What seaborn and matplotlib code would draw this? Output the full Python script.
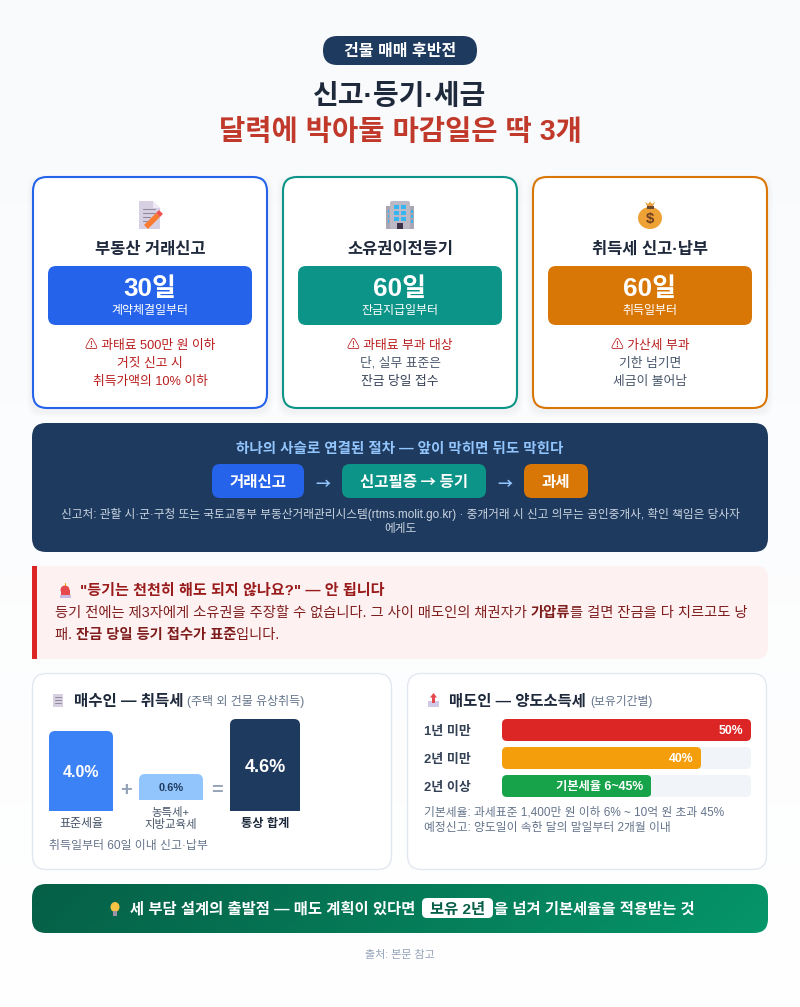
import numpy as np
import pandas as pd
import seaborn as sns
from matplotlib import pyplot as plt
from matplotlib.colors import to_rgb
from matplotlib.patches import Ellipse, FancyBboxPatch, Polygon, Rectangle

W, H = 800, 1007

# values
buyer_labels = ["표준세율", "농특세+지방교육세", "통상 합계"]
buyer_rates = [4.0, 0.6, 4.6]
buyer_texts = ["4.0%", "0.6%", "4.6%"]
seller_periods = ["1년 미만", "2년 미만", "2년 이상"]
seller_rates = [50, 40, 30]
seller_full = [50, 50, 50]
seller_texts = ["50%", "40%", "기본세율 6~45%"]
seller_colors = ["#dc2626", "#f59e0b", "#16a34a"]
card_titles = ["부동산 거래신고", "소유권이전등기", "취득세 신고·납부"]
card_days = ["30일", "60일", "60일"]
card_subs = ["계약체결일부터", "잔금지급일부터", "취득일부터"]
card_colors = ["#2563eb", "#0d9488", "#d97706"]
card_notes = [
    ["⚠ 과태료 500만 원 이하", "거짓 신고 시", "취득가액의 10% 이하"],
    ["⚠ 과태료 부과 대상", "단, 실무 표준은", "잔금 당일 접수"],
    ["⚠ 가산세 부과", "기한 넘기면", "세금이 불어남"],
]

sns.set_theme(style="white")
plt.rcParams["font.family"] = ["Liberation Sans", "Noto Sans CJK KR", "DejaVu Sans"]
plt.rcParams["patch.force_edgecolor"] = False
CJK_FIRST = ["Noto Sans CJK KR", "DejaVu Sans"]

fig = plt.figure(figsize=(W / 100, H / 100), dpi=100)


def px_axes(x0, y0, x1, y1, zorder=1):
    ax = fig.add_axes([x0 / W, 1 - y1 / H, (x1 - x0) / W, (y1 - y0) / H], zorder=zorder)
    ax.patch.set_alpha(0)
    return ax


bg = px_axes(0, 0, W, H, zorder=0)
bg.set_xlim(0, W)
bg.set_ylim(H, 0)
bg.axis("off")
top = px_axes(0, 0, W, H, zorder=5)
top.set_xlim(0, W)
top.set_ylim(H, 0)
top.axis("off")


def rbox(x0, y0, x1, y1, r, fc="none", ec="none", lw=0, ax=bg, z=2, alpha=None):
    p = FancyBboxPatch(
        (x0 + r, y0 + r),
        x1 - x0 - 2 * r,
        y1 - y0 - 2 * r,
        boxstyle=f"round,pad={r},rounding_size={r}",
        fc=fc,
        ec=ec,
        lw=lw,
        zorder=z,
        alpha=alpha,
    )
    ax.add_patch(p)
    return p


def txt(x, y, s, px, color, weight="normal", ha="center", family=None):
    # y is the visual middle of the line, placed from the baseline so lines stay level
    kw = {"family": family} if family else {}
    return top.text(x, y + 0.36 * px, s, fontsize=px * 0.72, color=color, fontweight=weight, ha=ha, va="baseline", **kw)


def text_width(s, px, weight):
    rnd = fig.canvas.get_renderer()
    a = top.text(0, 0, s + "|", fontsize=px * 0.72, fontweight=weight)
    b = top.text(0, 0, "|", fontsize=px * 0.72, fontweight=weight)
    w = a.get_window_extent(rnd).width - b.get_window_extent(rnd).width
    a.remove()
    b.remove()
    return w


def runs(x, y, parts, px):
    # several weights on one line
    for s, weight, color in parts:
        txt(x, y, s, px, color, weight, ha="left")
        x += text_width(s, px, weight)
    return x


def gradient(x0, y0, x1, y1, c0, c1, clip=None, diag=0.0, vertical=False):
    c0 = np.array(to_rgb(c0))
    c1 = np.array(to_rgb(c1))
    gx, gy = np.meshgrid(np.linspace(0, 1, 300), np.linspace(0, 1, 300))
    t = gy if vertical else (gx + diag * gy) / (1 + diag)
    im = bg.imshow(
        c0 * (1 - t[..., None]) + c1 * t[..., None],
        extent=(x0, x1, y1, y0),
        aspect="auto",
        zorder=1 if clip is None else 3,
    )
    if clip is not None:
        im.set_clip_path(clip)
    bg.set_xlim(0, W)
    bg.set_ylim(H, 0)


def round_bar(bar, r, top_only=False):
    # keep the seaborn bar, only clip its corners
    ext = bar.get_window_extent(fig.canvas.get_renderer())
    (x0, y0), (x1, y1) = bg.transData.inverted().transform([[ext.x0, ext.y1], [ext.x1, ext.y0]])
    if x1 <= x0 or y1 <= y0:
        return
    clip = FancyBboxPatch(
        (x0 + r, y0 + r),
        x1 - x0 - 2 * r,
        y1 - y0 - 2 * r + (12 if top_only else 0),
        boxstyle=f"round,pad={r},rounding_size={r}",
        transform=bg.transData,
    )
    bar.set_clip_on(True)
    bar.set_clip_path(clip)


# page background
gradient(0, 0, W, H, "#f8fafc", "#ffffff", vertical=True)

# header
rbox(323, 36, 477, 65, 14.5, fc="#1e3a5f")
txt(400, 50.5, "건물 매매 후반전", 16, "white", "bold")
txt(400, 94, "신고·등기·세금", 28, "#1e293b", "bold")
txt(400, 130, "달력에 박아둘 마감일은 딱 3개", 28.6, "#c0392b", "bold")

# three deadline cards
for i, x0 in enumerate([32, 282, 532]):
    x1 = x0 + 236
    cx = (x0 + x1) / 2
    for k in range(1, 6):
        rbox(x0 - k, 176 - k + 4, x1 + k, 408 + k + 4, 14, fc="#1e3a5f", alpha=0.006)
    rbox(x0 + 1, 177, x1 - 1, 408, 14, fc="white", ec=card_colors[i], lw=1.5, z=2.5)
    txt(cx, 248, card_titles[i], 16.5, "#1e293b", "bold")
    rbox(x0 + 16, 266, x1 - 16, 325, 8, fc=card_colors[i], z=3)
    txt(cx, 287, card_days[i], 26, "white", "bold")
    txt(cx, 310, card_subs[i], 12, "white")
    for j, line in enumerate(card_notes[i]):
        if i == 0 or j == 0:
            color = "#b91c1c"
        elif i == 1 and j == 2:
            color = "#334155"
        else:
            color = "#475569"
        txt(cx, 344 + j * 18, line, 12.8, color, "medium" if (i == 1 and j == 2) else "normal")

# icons, no emoji font here so they are small drawings
bg.add_patch(Polygon([[139, 201], [153, 201], [160, 208], [160, 229], [139, 229]], fc="#d6d0e2", zorder=4))
bg.add_patch(Polygon([[153, 201], [160, 208], [153, 208]], fc="#efeaf5", zorder=4))
for yy in [209, 213, 217, 221]:
    bg.plot([143, 155 if yy < 214 else 150], [yy, yy], color="#8f8a9c", lw=0.8, zorder=4)
bg.plot([146, 158], [227, 215], color="#f97b32", lw=4, solid_capstyle="butt", zorder=5)
bg.plot([158, 161], [215, 212], color="#ef5350", lw=4, solid_capstyle="butt", zorder=5)
bg.add_patch(Rectangle((386, 206), 28, 23, fc="#a9a5b2", zorder=4))
rbox(390, 201, 410, 229, 2, fc="#bdb9c4", z=4.2)
for yy in [205, 211, 217]:
    for xx in [394, 401]:
        bg.add_patch(Rectangle((xx, yy), 4.5, 4, fc="#35b6f2", zorder=4.4))
for yy in [210, 215, 220]:
    for xx in [387.5, 411]:
        bg.add_patch(Rectangle((xx, yy), 1.5, 3, fc="#35b6f2", zorder=4.4))
bg.add_patch(Rectangle((397, 223), 6, 6, fc="#3d3348", zorder=4.4))
bg.add_patch(Ellipse((650, 218), 24, 22, fc="#eea235", zorder=4))
bg.add_patch(Rectangle((646.5, 206), 7, 3, fc="#6d4a32", zorder=4.2))
bg.add_patch(Polygon([[645, 202], [648, 204], [650, 201.5], [652, 204], [655, 202], [653, 206], [647, 206]], fc="#e9a23b", zorder=4.2))
txt(650, 218, "$", 15, "#6d3f22", "bold")

# process panel
rbox(32, 423, 768, 552, 14, fc="#1e3a5f")
txt(400, 448, "하나의 사슬로 연결된 절차 — 앞이 막히면 뒤도 막힌다", 14.5, "#93c5fd", "bold")
for (x0, x1), label, color in zip(
    [(212, 304), (342, 486), (524, 588)],
    ["거래신고", "신고필증 → 등기", "과세"],
    card_colors,
):
    rbox(x0, 464, x1, 498, 8, fc=color, z=3)
    txt((x0 + x1) / 2, 481, label, 15.5, "white", "bold", family=CJK_FIRST)
txt(323, 484, "→", 15, "#93c5fd", "bold", family=CJK_FIRST)
txt(505, 484, "→", 15, "#93c5fd", "bold", family=CJK_FIRST)
txt(400, 514, "신고처: 관할 시·군·구청 또는 국토교통부 부동산거래관리시스템(rtms.molit.go.kr) · 중개거래 시 신고 의무는 공인중개사, 확인 책임은 당사자", 11.7, "#cbd5e1")
txt(400, 528, "에게도", 11.7, "#cbd5e1")

# alert box
alert = rbox(20, 566, 768, 659, 12, fc="#fef1f1")
alert_box = Rectangle((32, 560), 740, 105, transform=bg.transData)
alert.set_clip_path(alert_box)
bg.add_patch(Rectangle((32, 566), 5, 93, fc="#dc2626", zorder=3))
bg.add_patch(Ellipse((65, 590), 9, 9, fc="#e5484d", zorder=3))
bg.add_patch(Rectangle((60.5, 590), 9, 5, fc="#e5484d", zorder=3))
bg.add_patch(Rectangle((59.5, 594.5), 11, 3, fc="#c9b8e0", zorder=3.2))
bg.plot([65, 65], [583, 585], color="#f59e0b", lw=0.8, zorder=3)
txt(80.5, 590, '"등기는 천천히 해도 되지 않나요?" — 안 됩니다', 15.1, "#991b1b", "bold", ha="left")
runs(55, 612, [
    ("등기 전에는 제3자에게 소유권을 주장할 수 없습니다. 그 사이 매도인의 채권자가 ", "normal", "#7f1d1d"),
    ("가압류", "bold", "#7f1d1d"),
    ("를 걸면 잔금을 다 치르고도 낭", "normal", "#7f1d1d"),
], 14.3)
runs(55, 634, [
    ("패. ", "normal", "#7f1d1d"),
    ("잔금 당일 등기 접수가 표준", "bold", "#7f1d1d"),
    ("입니다.", "normal", "#7f1d1d"),
], 14.3)

# lower two cards
rbox(32.5, 673.5, 391.5, 869.5, 14, fc="white", ec="#e2e8f0", lw=1)
rbox(407.5, 673.5, 766.5, 869.5, 14, fc="white", ec="#e2e8f0", lw=1)

# buyer side
bg.add_patch(Rectangle((53, 694), 10, 13, fc="#d6d0e2", zorder=3))
for yy in [697, 700, 703]:
    bg.plot([55, 61], [yy, yy], color="#8f8a9c", lw=0.7, zorder=3)
txt(74, 700, "매수인 — 취득세", 15.5, "#1e293b", "bold", ha="left")
txt(187, 701, "(주택 외 건물 유상취득)", 12, "#64748b", ha="left")

buyer_boxes = [(49, 731, 113, 811), (139, 774, 203, 800), (230, 719, 300, 811)]
buyer_colors = ["#3b82f6", "#93c5fd", "#1e3a5f"]
for label, rate, box, color in zip(buyer_labels, buyer_rates, buyer_boxes, buyer_colors):
    ax = px_axes(*box)
    sns.barplot(x=[label], y=[rate], color=color, saturation=1, width=1, linewidth=0, ax=ax)
    ax.set_xlim(-0.5, 0.5)
    ax.set_ylim(0, rate)
    ax.axis("off")
    round_bar(ax.patches[0], 6, top_only=True)
txt(81, 771, buyer_texts[0], 16, "white", "bold")
txt(171, 787, buyer_texts[1], 11, "#1e3a5f", "bold")
txt(265, 766, buyer_texts[2], 18, "white", "bold")
txt(126, 789, "+", 20, "#94a3b8", "bold")
txt(217, 789, "=", 20, "#94a3b8", "bold")
txt(81, 823, "표준세율", 12, "#475569")
txt(171, 812, "농특세+", 11.4, "#475569")
txt(171, 824, "지방교육세", 11.4, "#475569")
txt(265, 823, "통상 합계", 12.2, "#1e293b", "bold")
txt(49, 845, "취득일부터 60일 이내 신고·납부", 11.9, "#64748b", ha="left")

# seller side
bg.add_patch(Rectangle((428, 701), 11, 6, fc="#cfc8e6", zorder=3))
bg.add_patch(Polygon([[433.5, 693], [437, 697.5], [435, 697.5], [435, 703], [432, 703], [432, 697.5], [430, 697.5]], fc="#e5484d", zorder=3.2))
txt(449, 700, "매도인 — 양도소득세", 15.4, "#1e293b", "bold", ha="left")
txt(590, 701, "(보유기간별)", 11.8, "#64748b", ha="left")

seller = pd.DataFrame({"period": seller_periods, "rate": seller_rates, "full": seller_full})
ax = px_axes(502, 716, 751, 800)
sns.barplot(data=seller, x="full", y="period", color="#f1f5f9", saturation=1, width=22 / 28, linewidth=0, ax=ax)
sns.barplot(data=seller, x="rate", y="period", hue="period", palette=seller_colors, saturation=1, width=22 / 28, linewidth=0, legend=False, ax=ax)
ax.set_xlim(0, 50)
ax.set_ylim(2.5, -0.5)
ax.set(xlabel="", ylabel="")
sns.despine(ax=ax, left=True, bottom=True)
ax.set_xticks([])
ax.tick_params(axis="y", length=0, pad=78 * 0.72)
for tick in ax.get_yticklabels():
    tick.set_ha("left")
    tick.set_fontsize(13 * 0.72)
    tick.set_fontweight("bold")
    tick.set_color("#334155")
for bar in ax.patches:
    round_bar(bar, 5)
for i, s in enumerate(seller_texts):
    ax.text(seller_rates[i] - 8 / 249 * 50, i + 0.15, s, ha="right", va="baseline", color="white", fontweight="bold", fontsize=12.3 * 0.72)
txt(424, 811, "기본세율: 과세표준 1,400만 원 이하 6% ~ 10억 원 초과 45%", 11.8, "#64748b", ha="left")
txt(424, 827, "예정신고: 양도일이 속한 달의 말일부터 2개월 이내", 11.8, "#64748b", ha="left")

# bottom banner
clip = rbox(32, 884, 768, 933, 14, fc="none", z=2)
gradient(32, 884, 768, 933, "#065f46", "#059669", clip=clip, diag=0.07)
bg.add_patch(Ellipse((115, 907), 9, 10, fc="#f6c344", zorder=4))
bg.add_patch(Rectangle((113, 911), 4, 4.5, fc="#9c93a8", zorder=4))
txt(130.5, 908, "세 부담 설계의 출발점 — 매도 계획이 있다면", 15.4, "white", "bold", ha="left")
rbox(422, 898, 493, 918, 5, fc="white", z=4)
txt(457.5, 908, "보유 2년", 15.4, "#065f46", "bold")
txt(494, 908, "을 넘겨 기본세율을 적용받는 것", 15.4, "white", "bold", ha="left")
txt(400, 954, "출처: 본문 참고", 11, "#94a3b8")

fig.savefig("out.png", dpi=100)
